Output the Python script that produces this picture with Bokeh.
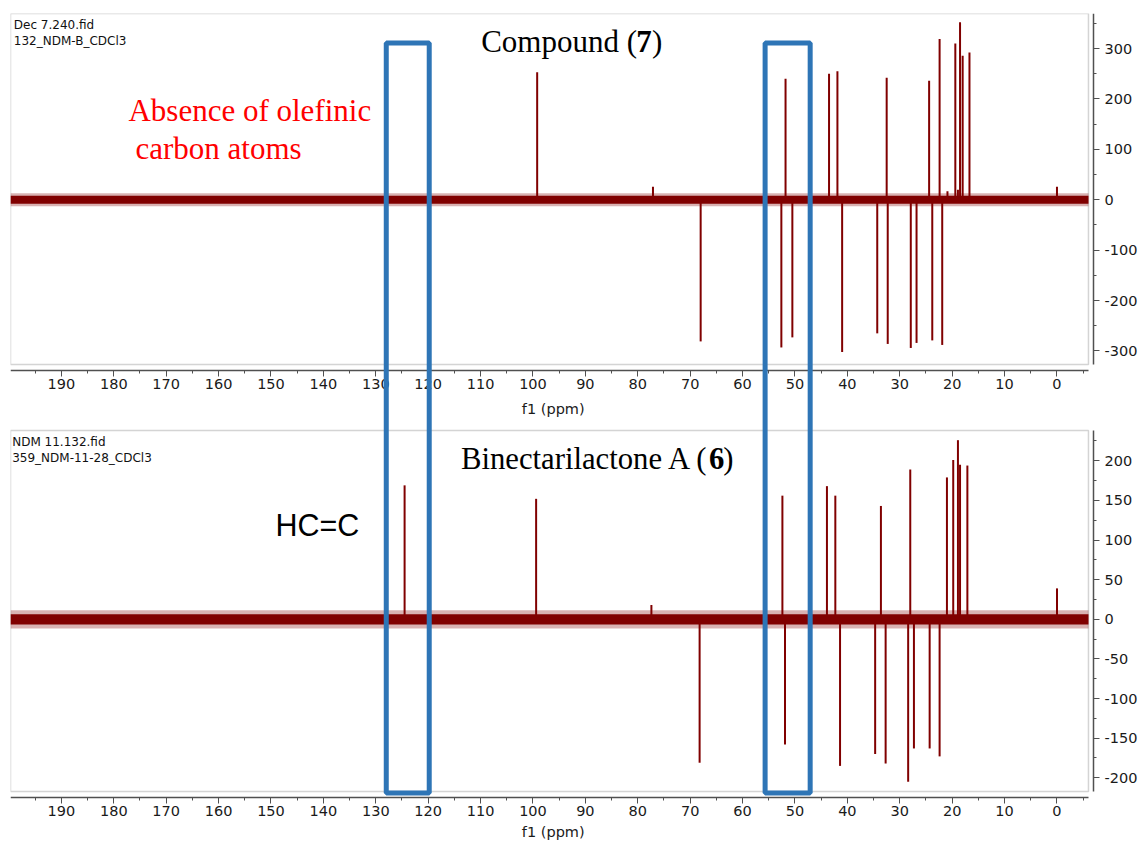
from bokeh.plotting import figure
from bokeh.models import (Range1d, FixedTicker, BoxAnnotation, Label, LinearAxis,
                          CustomJSTickFormatter)
from bokeh.embed import file_html
from bokeh.resources import INLINE

# ---------------- data ----------------
ppm_major = list(range(0, 200, 10))
ppm_minor = list(range(-5, 200, 5))

# Compound (7) DEPT-135
top_pos_ppm = [99.2, 77.1, 51.8, 43.5, 41.9, 32.5, 24.4, 22.4, 20.9, 19.4, 18.9, 18.5, 18.0, 16.7, 0.0]
top_pos_int = [253, 26, 240, 250, 255, 242, 236, 319, 17, 310, 20, 352, 286, 292, 26]
top_neg_ppm = [68.0, 52.6, 50.5, 41.0, 34.3, 32.3, 27.9, 26.8, 23.8, 21.9]
top_neg_int = [-281, -293, -273, -302, -265, -286, -294, -284, -279, -288]
top_yticks = [-300, -200, -100, 0, 100, 200, 300]
top_yminor = list(range(-300, 351, 50))

# Binectarilactone A (6) DEPT-135
bot_pos_ppm = [124.5, 99.4, 77.4, 52.4, 43.9, 42.3, 33.6, 28.0, 21.0, 19.8, 18.9, 18.5, 17.1, 0.0]
bot_pos_int = [169, 152, 18, 156, 168, 156, 143, 189, 179, 201, 226, 195, 194, 39]
bot_neg_ppm = [68.2, 51.9, 41.4, 34.7, 32.7, 28.4, 27.3, 24.3, 22.4]
bot_neg_int = [-181, -158, -185, -170, -182, -205, -163, -163, -173]
bot_yticks = [-200, -150, -100, -50, 0, 50, 100, 150, 200]
bot_yminor = list(range(-200, 226, 25))

# highlighted regions (ppm)
region_left = [128.0, 55.7]
region_right = [119.8, 47.1]

# baseline noise levels (intensity units): [core, spikes]
top_noise = [8, 13]
bot_noise = [6.5, 11.5]

# ---------------- layout / style ----------------
PEAK = "#800000"
BLUE = "#2e75b6"
AX = "#505050"
X_START, X_END = 199.71, -16.13      # frame spans the whole width to the page edge
X_INNER_END = -6.01                   # right edge of the light spectrum frames
Y_AXIS_AT = -6.97                     # where both intensity axes sit
SANS = "DejaVu Sans"
SERIF = "Liberation Serif"

# top panel intensity scale is the default y range; bottom panel uses "bot"
TOP_RANGE = (-1273.2, 369.6)
TOP_INNER = (-326.8, 369.6)
TOP_XAXIS_AT = -338.7
BOT_XAXIS_AT = -1185.9
BOT_RANGE = (-280.4, 764.4)
BOT_INNER = (-217.3, 238.2)
BOX_TOP, BOX_BOTTOM = 311, -1177

p = figure(width=1141, height=841, output_backend="svg", toolbar_location=None,
           x_range=Range1d(X_START, X_END), y_range=Range1d(*TOP_RANGE),
           x_axis_location=None, y_axis_location=None,
           min_border_left=10, min_border_right=0, min_border_top=13, min_border_bottom=0)
p.extra_y_ranges = {"bot": Range1d(*BOT_RANGE)}
p.outline_line_color = None
p.xgrid.visible = False
p.ygrid.visible = False
p.background_fill_color = "white"
p.border_fill_color = "white"

fmt = CustomJSTickFormatter(code="return tick.toFixed(0);")


def style_axis(a, standoff):
    a.axis_line_color = AX
    a.axis_line_width = 1.5
    a.major_tick_line_color = AX
    a.minor_tick_line_color = AX
    a.major_tick_in = 0
    a.major_tick_out = 6
    a.minor_tick_in = 0
    a.minor_tick_out = 3
    a.major_label_text_font = SANS
    a.major_label_text_font_size = "14.5px"
    a.major_label_text_color = "#1a1a1a"
    a.major_label_standoff = standoff


for loc in (TOP_XAXIS_AT, BOT_XAXIS_AT):
    xa = LinearAxis(ticker=FixedTicker(ticks=ppm_major, minor_ticks=ppm_minor),
                    fixed_location=loc, bounds=(X_INNER_END, X_START))
    style_axis(xa, 3)
    p.add_layout(xa, "below")

yt = LinearAxis(fixed_location=Y_AXIS_AT, bounds=TOP_INNER, formatter=fmt,
                ticker=FixedTicker(ticks=top_yticks, minor_ticks=top_yminor))
style_axis(yt, 5)
p.add_layout(yt, "right")

yb = LinearAxis(fixed_location=Y_AXIS_AT, y_range_name="bot", bounds=BOT_INNER,
                formatter=fmt, ticker=FixedTicker(ticks=bot_yticks, minor_ticks=bot_yminor))
style_axis(yb, 5)
p.add_layout(yb, "right")


def panel(rng_name, inner, noise, pos_ppm, pos_int, neg_ppm, neg_int):
    kw = {} if rng_name is None else {"y_range_name": rng_name}
    p.add_layout(BoxAnnotation(left=X_START, right=X_INNER_END, bottom=inner[0], top=inner[1],
                               fill_alpha=0, fill_color=None, line_color="#d4d4d4",
                               line_alpha=1, line_width=1.5, level="underlay", **kw))
    p.quad(left=[X_START], right=[X_INNER_END], bottom=[-noise[1]], top=[noise[1]],
           fill_color=PEAK, fill_alpha=0.3, line_color=None, **kw)
    p.quad(left=[X_START], right=[X_INNER_END], bottom=[-noise[0]], top=[noise[0]],
           fill_color=PEAK, fill_alpha=1.0, line_color=None, **kw)
    p.segment(x0=pos_ppm, y0=[0] * len(pos_ppm), x1=pos_ppm, y1=pos_int,
              line_color=PEAK, line_width=2, **kw)
    p.segment(x0=neg_ppm, y0=[0] * len(neg_ppm), x1=neg_ppm, y1=neg_int,
              line_color=PEAK, line_width=2, **kw)


panel(None, TOP_INNER, top_noise, top_pos_ppm, top_pos_int, top_neg_ppm, top_neg_int)
panel("bot", BOT_INNER, bot_noise, bot_pos_ppm, bot_pos_int, bot_neg_ppm, bot_neg_int)

# highlighted regions spanning both spectra
for x0, x1 in zip(region_left, region_right):
    p.add_layout(BoxAnnotation(left=x0, right=x1, top=BOX_TOP, bottom=BOX_BOTTOM,
                               fill_alpha=0, fill_color=None, line_alpha=1,
                               line_color=BLUE, line_width=5))


def lab(x, y, text, font, size, color="black", align="left", style="normal", rng=None,
        baseline="alphabetic"):
    kw = {} if rng is None else {"y_range_name": rng}
    p.add_layout(Label(x=x, y=y, text=text, text_font=font, text_font_size=size,
                       text_color=color, text_align=align, text_font_style=style,
                       text_baseline=baseline, **kw))


# top texts
lab(199.08, 345.8, "Dec 7.240.fid", SANS, "12px", "#111111")
lab(199.08, 314.7, "132_NDM-B_CDCl3", SANS, "12px", "#111111")
lab(80.15, 314, "Compound (", SERIF, "31px", align="right")
lab(80.3, 314, "7", SERIF, "31px", style="bold")
lab(77.3, 314, ")", SERIF, "31px")
lab(177.2, 177.2, "Absence of olefinic", SERIF, "31px", "#ff0000")
lab(175.86, 102.4, "carbon atoms", SERIF, "31px", "#ff0000")
lab(96.13, -414.7, "f1 (ppm)", SANS, "14.5px", "#1a1a1a", align="center", baseline="middle")

# bottom texts
lab(199.39, 223.5, "NDM 11.132.fid", SANS, "12px", "#111111", rng="bot")
lab(199.39, 203.3, "359_NDM-11-28_CDCl3", SANS, "12px", "#111111", rng="bot")
lab(66.26, 202.5, "Binectarilactone A (", SERIF, "30.7px", align="right", rng="bot")
lab(66.4, 202.5, "6", SERIF, "30.7px", style="bold", rng="bot")
lab(63.7, 202.5, ")", SERIF, "30.7px", rng="bot")
lab(149.14, 119.6, "HC=C", "Liberation Sans", "30.5px", rng="bot")
lab(96.13, -269.0, "f1 (ppm)", SANS, "14.5px", "#1a1a1a", align="center", baseline="middle",
    rng="bot")

open("out.html", "w").write(file_html(p, INLINE))
